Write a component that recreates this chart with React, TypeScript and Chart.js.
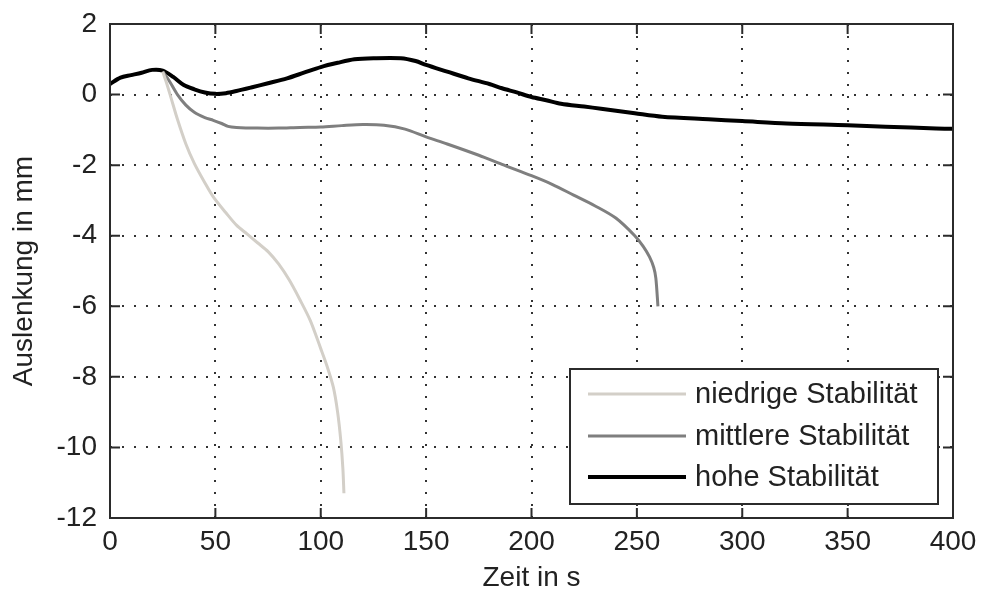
import React, { useEffect, useRef } from "react";
import { Chart, registerables } from "chart.js";

Chart.register(...registerables);

const xTicks = [0, 50, 100, 150, 200, 250, 300, 350, 400];
const yTicks = [2, 0, -2, -4, -6, -8, -10, -12];

const seriesNames = ["niedrige Stabilität", "mittlere Stabilität", "hohe Stabilität"];
const seriesColors = ["#d3cfc8", "#7f7f7f", "#000000"];
const seriesWidths = [3, 3, 4];

const niedrigeX = [25, 27, 29, 32, 36, 40, 45, 49, 55, 60, 65, 70, 75, 80, 85, 90, 95, 100, 103, 106, 108, 109.5, 110.5, 111];
const niedrigeY = [0.65, 0.3, -0.1, -0.7, -1.4, -1.95, -2.5, -2.9, -3.35, -3.7, -3.95, -4.2, -4.45, -4.8, -5.25, -5.8, -6.4, -7.2, -7.7, -8.3, -9.0, -9.8, -10.6, -11.3];

const mittlereX = [25, 28, 32, 36, 40, 45, 49, 53, 56, 60, 70, 80, 90, 100, 110, 120, 130, 140, 150, 160, 175, 186, 200, 210, 220, 230, 240, 249, 253, 256, 258, 259, 260];
const mittlereY = [0.65, 0.4, 0.0, -0.3, -0.5, -0.65, -0.73, -0.82, -0.9, -0.93, -0.95, -0.95, -0.93, -0.92, -0.88, -0.85, -0.87, -0.98, -1.2, -1.4, -1.72, -1.98, -2.3, -2.55, -2.85, -3.15, -3.5, -4.0, -4.3, -4.6, -4.9, -5.2, -6.0];

const hoheX = [0, 5, 10, 15, 20, 25, 30, 35, 40, 45, 50, 55, 60, 67, 75, 84, 92, 100, 108, 116, 125, 138, 145, 150, 160, 170, 180, 186, 193, 200, 207, 214, 225, 233, 249, 262, 284, 300, 321, 350, 368, 392, 400];
const hoheY = [0.3, 0.48, 0.55, 0.62, 0.7, 0.68, 0.5, 0.27, 0.15, 0.06, 0.02, 0.04, 0.1, 0.2, 0.32, 0.46, 0.62, 0.78, 0.9, 1.0, 1.03, 1.03, 0.95, 0.84, 0.65, 0.46, 0.3, 0.18, 0.06, -0.07, -0.16, -0.26, -0.34, -0.4, -0.53, -0.63, -0.7, -0.75, -0.82, -0.87, -0.91, -0.96, -0.97];

const FONT = "'Liberation Sans', Arial, sans-serif";

const toPoints = (xs: number[], ys: number[]) => xs.map((x, i) => ({ x, y: ys[i] }));

const framePlugin = {
  id: "frameAndLegend",
  afterDatasetsDraw(chart: any) {
    const { ctx, chartArea } = chart;
    const { left, right, top, bottom } = chartArea;
    const xs = chart.scales.x;
    const ys = chart.scales.y;
    ctx.save();
    ctx.strokeStyle = "#2b2b2b";
    ctx.lineWidth = 2;
    ctx.strokeRect(left, top, right - left, bottom - top);
    const tl = 10;
    ctx.beginPath();
    xTicks.forEach((v) => {
      const px = xs.getPixelForValue(v);
      ctx.moveTo(px, bottom);
      ctx.lineTo(px, bottom - tl);
      ctx.moveTo(px, top);
      ctx.lineTo(px, top + tl);
    });
    yTicks.forEach((v) => {
      const py = ys.getPixelForValue(v);
      ctx.moveTo(left, py);
      ctx.lineTo(left + tl, py);
      ctx.moveTo(right, py);
      ctx.lineTo(right - tl, py);
    });
    ctx.stroke();

    // legend
    const lx = 570, ly = 369, lw = 368, lh = 135;
    ctx.fillStyle = "#ffffff";
    ctx.fillRect(lx, ly, lw, lh);
    ctx.strokeStyle = "#2b2b2b";
    ctx.lineWidth = 2;
    ctx.strokeRect(lx, ly, lw, lh);
    const rows = [394, 436, 477];
    ctx.font = "29px " + FONT;
    ctx.textBaseline = "middle";
    ctx.textAlign = "left";
    seriesNames.forEach((name, i) => {
      ctx.strokeStyle = seriesColors[i];
      ctx.lineWidth = seriesWidths[i];
      ctx.beginPath();
      ctx.moveTo(588, rows[i]);
      ctx.lineTo(686, rows[i]);
      ctx.stroke();
      ctx.fillStyle = "#222222";
      ctx.fillText(name, 695, rows[i] + 1);
    });
    ctx.restore();
  },
};

export default function App() {
  const ref = useRef<HTMLCanvasElement | null>(null);
  useEffect(() => {
    document.body.style.margin = "0";
    const canvas = ref.current;
    if (!canvas) return;
    const datasets = [
      { data: toPoints(niedrigeX, niedrigeY) },
      { data: toPoints(mittlereX, mittlereY) },
      { data: toPoints(hoheX, hoheY) },
    ].map((d, i) => ({
      label: seriesNames[i],
      data: d.data,
      borderColor: seriesColors[i],
      borderWidth: seriesWidths[i],
      pointRadius: 0,
      tension: 0.3,
      fill: false,
    }));
    const chart = new Chart(canvas, {
      type: "line",
      data: { datasets },
      options: {
        animation: false,
        responsive: false,
        maintainAspectRatio: false,
        layout: { padding: { top: 24, right: 28, left: 0, bottom: 0 } },
        plugins: { legend: { display: false }, tooltip: { enabled: false } },
        scales: {
          x: {
            type: "linear",
            min: 0,
            max: 400,
            afterBuildTicks: (s: any) => {
              s.ticks = xTicks.map((v) => ({ value: v }));
            },
            afterFit: (s: any) => {
              s.height = 77;
              s.paddingLeft = 0;
              s.paddingRight = 0;
            },
            grid: { color: "#333", lineWidth: 2, drawTicks: false },
            border: { display: false, dash: [2, 10] },
            ticks: { color: "#222", font: { family: FONT, size: 28 }, padding: 7, maxRotation: 0 },
            title: {
              display: true,
              text: "Zeit in s",
              color: "#222",
              font: { family: FONT, size: 28 },
              padding: { top: 0, bottom: 0 },
            },
          },
          y: {
            type: "linear",
            min: -12,
            max: 2,
            afterBuildTicks: (s: any) => {
              s.ticks = yTicks.map((v) => ({ value: v }));
            },
            afterFit: (s: any) => {
              s.width = 110;
              s.paddingTop = 0;
              s.paddingBottom = 0;
            },
            grid: { color: "#333", lineWidth: 2, drawTicks: false },
            border: { display: false, dash: [2, 10] },
            ticks: { color: "#222", font: { family: FONT, size: 28 }, padding: 13 },
            title: {
              display: true,
              text: "Auslenkung in mm",
              color: "#222",
              font: { family: FONT, size: 28 },
              padding: { top: 7, bottom: 0 },
            },
          },
        },
      },
      plugins: [framePlugin],
    });
    return () => chart.destroy();
  }, []);
  return (
    <div style={{ width: 981, height: 595, background: "#fff" }}>
      <canvas ref={ref} width={981} height={595} style={{ display: "block" }} />
    </div>
  );
}
